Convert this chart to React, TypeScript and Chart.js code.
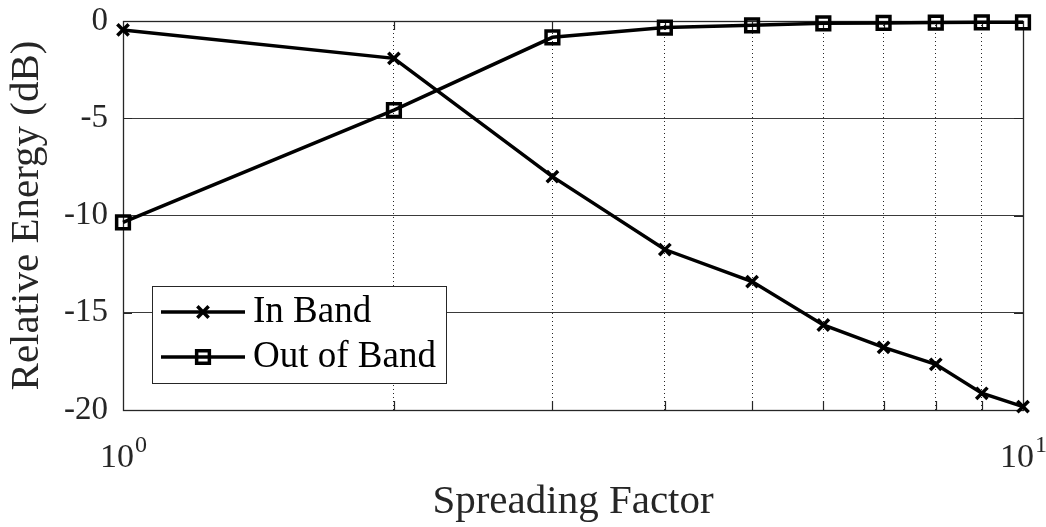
import React, { useEffect, useRef } from 'react';
import { Chart, registerables } from 'chart.js';

Chart.register(...registerables);

// ---------- data ----------
const spreadingFactor = [1, 2, 3, 4, 5, 6, 7, 8, 9, 10];
const inBand = [-0.46, -1.92, -8.0, -11.75, -13.4, -15.63, -16.78, -17.65, -19.14, -19.83];
const outOfBand = [-10.35, -4.58, -0.84, -0.34, -0.22, -0.12, -0.1, -0.08, -0.07, -0.07];
const seriesLabels = ['In Band', 'Out of Band'];
const xGridValues = [1, 2, 3, 4, 5, 6, 7, 8, 9, 10];
const xDecadeLabels = [1, 10];
const yTicks = [0, -5, -10, -15, -20];
const xTitle = 'Spreading Factor';
const yTitle = 'Relative Energy (dB)';

const FONT = "'Liberation Serif', 'Times New Roman', serif";
const AXIS_COLOR = '#262626';

function drawMarker(ctx: CanvasRenderingContext2D, style: string, x: number, y: number, r: number) {
  ctx.beginPath();
  if (style === 'rect') {
    const s = Math.SQRT1_2 * r;
    ctx.rect(x - s, y - s, 2 * s, 2 * s);
  } else {
    const s = Math.SQRT1_2 * r;
    ctx.moveTo(x - s, y - s);
    ctx.lineTo(x + s, y + s);
    ctx.moveTo(x + s, y - s);
    ctx.lineTo(x - s, y + s);
  }
  ctx.stroke();
}

const boxPlugin = {
  id: 'matlabBox',
  beforeDatasetsDraw(chart: any) {
    const { ctx, chartArea } = chart;
    const { left, right, top, bottom } = chartArea;
    const xs = chart.scales.x;
    const ys = chart.scales.y;
    ctx.save();
    ctx.strokeStyle = AXIS_COLOR;
    ctx.lineWidth = 1.3;
    ctx.strokeRect(Math.round(left) + 0.5, Math.round(top) + 0.5, Math.round(right - left), Math.round(bottom - top));
    const tl = 9;
    ctx.lineWidth = 1.2;
    ctx.beginPath();
    xGridValues.forEach((v) => {
      if (v === 1 || v === 10) return;
      const px = Math.round(xs.getPixelForValue(v)) + 0.5;
      ctx.moveTo(px, bottom);
      ctx.lineTo(px, bottom - tl);
      ctx.moveTo(px, top);
      ctx.lineTo(px, top + tl);
    });
    yTicks.forEach((v) => {
      const py = Math.round(ys.getPixelForValue(v)) + 0.5;
      ctx.moveTo(left, py);
      ctx.lineTo(left + tl, py);
      ctx.moveTo(right, py);
      ctx.lineTo(right - tl, py);
    });
    ctx.stroke();
    ctx.restore();
  },
  afterDraw(chart: any) {
    const { ctx } = chart;
    const xs = chart.scales.x;
    ctx.save();
    ctx.fillStyle = AXIS_COLOR;
    ctx.textBaseline = 'alphabetic';
    const baseY = 467;
    xDecadeLabels.forEach((v) => {
      const exp = String(Math.round(Math.log10(v)));
      ctx.font = `34px ${FONT}`;
      const wBase = ctx.measureText('10').width;
      ctx.font = `24px ${FONT}`;
      const wExp = ctx.measureText(exp).width;
      const cx = xs.getPixelForValue(v);
      const x0 = cx - (wBase + wExp) / 2;
      ctx.font = `34px ${FONT}`;
      ctx.fillText('10', x0, baseY);
      ctx.font = `24px ${FONT}`;
      ctx.fillText(exp, x0 + wBase + 1, baseY - 15);
    });
    ctx.restore();
  },
};

const legendPlugin = {
  id: 'boxLegend',
  afterDatasetsDraw(chart: any) {
    const { ctx, chartArea } = chart;
    const w = 294;
    const h = 97;
    const x0 = Math.round(chartArea.left + 29);
    const y0 = Math.round(chartArea.bottom - 27 - h);
    ctx.save();
    ctx.fillStyle = '#ffffff';
    ctx.fillRect(x0, y0, w, h);
    ctx.strokeStyle = AXIS_COLOR;
    ctx.lineWidth = 1;
    ctx.strokeRect(x0 + 0.5, y0 + 0.5, w, h);
    chart.data.datasets.forEach((ds: any, i: number) => {
      const cy = y0 + 26 + i * 45;
      ctx.strokeStyle = ds.borderColor;
      ctx.lineWidth = ds.borderWidth;
      ctx.beginPath();
      ctx.moveTo(x0 + 9, cy);
      ctx.lineTo(x0 + 93, cy);
      ctx.stroke();
      ctx.lineWidth = ds.pointBorderWidth;
      drawMarker(ctx, ds.pointStyle, x0 + 51, cy, ds.pointRadius);
      ctx.fillStyle = '#000000';
      ctx.font = `37px ${FONT}`;
      ctx.textBaseline = 'middle';
      ctx.textAlign = 'left';
      ctx.fillText(ds.label, x0 + 101, cy);
    });
    ctx.restore();
  },
};

export default function App() {
  const canvasRef = useRef<HTMLCanvasElement | null>(null);

  useEffect(() => {
    const canvas = canvasRef.current;
    if (!canvas) return;
    const chart = new Chart(canvas, {
      type: 'line',
      data: {
        datasets: [
          {
            label: seriesLabels[0],
            data: spreadingFactor.map((x, i) => ({ x, y: inBand[i] })),
            borderColor: '#000000',
            backgroundColor: 'rgba(0,0,0,0)',
            borderWidth: 3.5,
            pointStyle: 'crossRot',
            pointRadius: 8,
            pointBorderWidth: 3.5,
            pointBorderColor: '#000000',
            pointBackgroundColor: 'rgba(0,0,0,0)',
            tension: 0,
            clip: false as any,
          },
          {
            label: seriesLabels[1],
            data: spreadingFactor.map((x, i) => ({ x, y: outOfBand[i] })),
            borderColor: '#000000',
            backgroundColor: 'rgba(0,0,0,0)',
            borderWidth: 3.5,
            pointStyle: 'rect',
            pointRadius: 9,
            pointBorderWidth: 3.5,
            pointBorderColor: '#000000',
            pointBackgroundColor: 'rgba(0,0,0,0)',
            tension: 0,
            clip: false as any,
          },
        ],
      },
      options: {
        responsive: false,
        animation: false,
        layout: { padding: { top: 21, right: 23, left: 0, bottom: 0 } },
        plugins: { legend: { display: false }, tooltip: { enabled: false } },
        scales: {
          x: {
            type: 'logarithmic',
            min: 1,
            max: 10,
            afterBuildTicks: (s: any) => {
              s.ticks = xGridValues.map((v) => ({ value: v }));
            },
            afterFit: (s: any) => {
              s.height = 117;
              s.paddingLeft = 0;
              s.paddingRight = 0;
            },
            ticks: { display: false },
            grid: {
              color: (c: any) =>
                c.tick && (c.tick.value === 1 || c.tick.value === 10) ? 'rgba(0,0,0,0)' : AXIS_COLOR,
              lineWidth: 1,
              drawTicks: false,
            },
            border: { display: false, dash: [1, 3] },
            title: {
              display: true,
              text: xTitle,
              color: AXIS_COLOR,
              font: { family: FONT, size: 41 },
              padding: { top: 0, bottom: 0 },
            },
          },
          y: {
            type: 'linear',
            min: -20,
            max: 0,
            afterBuildTicks: (s: any) => {
              s.ticks = yTicks.map((v) => ({ value: v }));
            },
            afterFit: (s: any) => {
              s.width = 123;
              s.paddingTop = 0;
              s.paddingBottom = 0;
            },
            ticks: {
              color: AXIS_COLOR,
              font: { family: FONT, size: 33 },
              padding: 15,
              callback: (v: any) => String(v),
            },
            grid: {
              color: (c: any) =>
                c.tick && (c.tick.value === 0 || c.tick.value === -20) ? 'rgba(0,0,0,0)' : '#3a3a3a',
              lineWidth: 1,
              drawTicks: false,
            },
            border: { display: false },
            title: {
              display: true,
              text: yTitle,
              color: AXIS_COLOR,
              font: { family: FONT, size: 41 },
              padding: { top: 3, bottom: 0 },
            },
          },
        },
      },
      plugins: [boxPlugin, legendPlugin],
    } as any);
    return () => chart.destroy();
  }, []);

  return (
    <canvas
      ref={canvasRef}
      width={1046}
      height={527}
      style={{ position: 'absolute', left: 0, top: 0, display: 'block' }}
    />
  );
}
